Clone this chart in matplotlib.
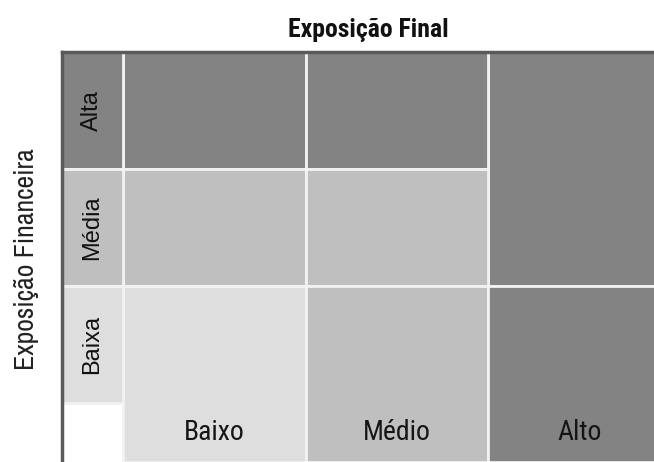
import matplotlib.pyplot as plt
from matplotlib.patches import Rectangle

# Data
row_labels = ['Alta', 'Média', 'Baixa']      # Exposição Financeira (top -> bottom)
col_labels = ['Baixo', 'Médio', 'Alto']      # Exposição Final (left -> right)
levels = [[2, 2, 2],
          [1, 1, 2],
          [0, 1, 2]]
row_levels = [2, 1, 0]
merged = [(0, 1, 2)]   # (first row, last row, column) drawn as a single cell

level_colors = ['#dedede', '#bfbfbf', '#838383']
line_col = '#f2f2f2'
narrow = ['Archivo Narrow', 'DejaVu Sans']
cond = ['Roboto Condensed', 'Archivo Narrow', 'DejaVu Sans']
plain = ['Liberation Sans', 'DejaVu Sans']

fig = plt.figure(figsize=(6.54, 4.62), dpi=100)
ax = fig.add_axes([62/654, 0, 592/654, 410/462])
lab_w = 1/3
head_h = 0.5
n = len(row_labels)
ax.set_xlim(-lab_w, 2.907)
ax.set_ylim(0, n + head_h)
ax.axis('off')

def row_y(i):
    # bottom edge of row i (row 0 on top)
    return head_h + (n - 1 - i)

# main cells, bottom row stretches down over the header strip
skip = set()
for r0, r1, c in merged:
    for r in range(r0, r1 + 1):
        skip.add((r, c))
    y0 = row_y(r1)
    ax.add_patch(Rectangle((c, y0), 1, row_y(r0) + 1 - y0,
                           facecolor=level_colors[levels[r0][c]],
                           edgecolor=line_col, lw=2))
for i in range(n):
    for j in range(len(col_labels)):
        if (i, j) in skip:
            continue
        y0, h = row_y(i), 1
        if i == n - 1:
            y0, h = 0, 1 + head_h
        ax.add_patch(Rectangle((j, y0), 1, h, facecolor=level_colors[levels[i][j]],
                               edgecolor=line_col, lw=2))

# row label column
for i, lab in enumerate(row_labels):
    ax.add_patch(Rectangle((-lab_w, row_y(i)), lab_w, 1,
                           facecolor=level_colors[row_levels[i]],
                           edgecolor=line_col, lw=2))
    ax.text(-lab_w/2, row_y(i) + 0.5, lab, rotation=90, ha='center', va='center',
            fontsize=17, family=plain, color='#111111')

for j, lab in enumerate(col_labels):
    ax.text(j + 0.5, head_h/2, lab, ha='center', va='center',
            fontsize=20, family=cond, color='#151515')

# dark outline on left and top
ax.plot([-lab_w, -lab_w], [0, n + head_h], color='#5a5a5a', lw=2.5, clip_on=False)
ax.plot([-lab_w, 2.907], [n + head_h, n + head_h], color='#5a5a5a', lw=2.5, clip_on=False)

fig.text(368/654, 1 - 30/462, 'Exposição Final', ha='center', va='center',
         fontsize=18.5, fontweight='bold', family=cond, color='#111111')
fig.text(27/654, 1 - 259/462, 'Exposição Financeira', rotation=90, ha='center', va='center',
         fontsize=20, family=narrow, color='#222222')

fig.savefig('out.png', dpi=100)
